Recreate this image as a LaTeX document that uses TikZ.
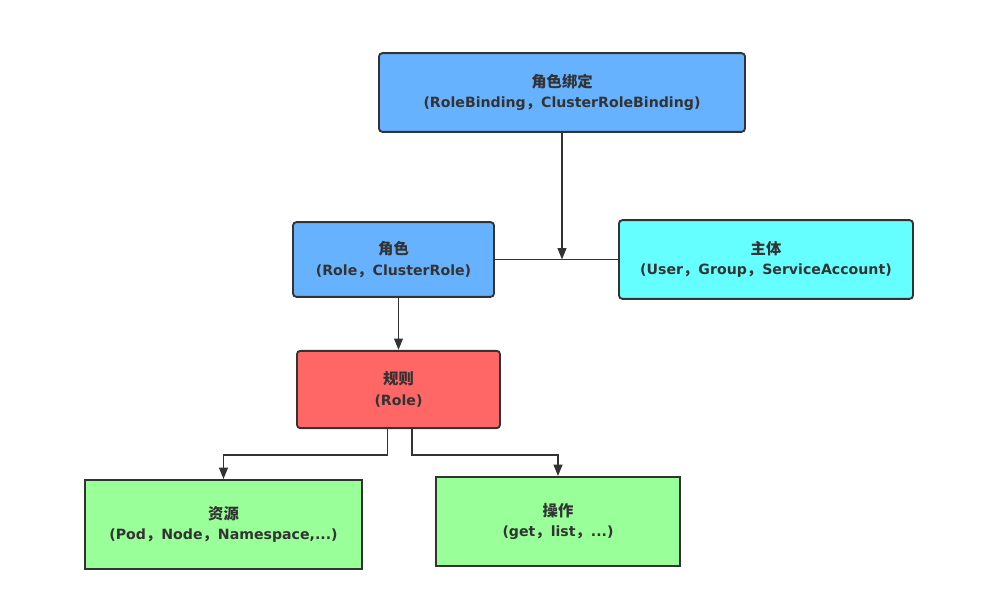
\documentclass[tikz,border=0pt]{standalone}
\usepackage{fontspec}
\setmainfont{DejaVu Sans}
\newfontfamily\cjk{Noto Sans CJK SC}
\usetikzlibrary{arrows.meta,positioning,calc}
\definecolor{bindblue}{HTML}{66B2FF}
\definecolor{subjcyan}{HTML}{66FFFF}
\definecolor{rulered}{HTML}{FF6666}
\definecolor{resgreen}{HTML}{99FF99}
\definecolor{edgegray}{HTML}{333333}
\newcommand{\zh}[1]{{\cjk\fontsize{11.5}{15.5}\selectfont\bfseries #1}}

\begin{document}
\begin{tikzpicture}[
    x=0.75pt,
    y=0.75pt,
    font=\fontsize{10.6}{15.5}\selectfont\bfseries,
    box/.style={draw=edgegray,line width=1.4pt,align=center,text=edgegray,inner sep=0pt},
    roundbox/.style={box,rounded corners=2.5pt},
    flow/.style={-{Triangle[length=8.5pt,width=6.5pt]},draw=edgegray,line width=1.4pt},
    link/.style={draw=edgegray,line width=1.4pt}
  ]
    \useasboundingbox (0,0) rectangle (997,611);

    \node[roundbox,fill=bindblue,minimum width=274.5pt,minimum height=59pt] (binding) at (562,518.5)
      {\zh{角色绑定}\\(RoleBinding\zh{，}ClusterRoleBinding)};
    \node[roundbox,fill=bindblue,minimum width=150.75pt,minimum height=56pt] (role) at (393.5,351.5)
      {\zh{角色}\\(Role\zh{，}ClusterRole)};
    \node[roundbox,fill=subjcyan,minimum width=220.5pt,minimum height=59pt] (subject) at (766,351.5)
      {\zh{主体}\\(User\zh{，}Group\zh{，}ServiceAccount)};
    \node[roundbox,fill=rulered,minimum width=152.25pt,minimum height=58pt] (rule) at (398.5,221.5)
      {\zh{规则}\\(Role)};
    \node[box,fill=resgreen,minimum width=207.75pt,minimum height=66.75pt] (resource) at (223.5,86.5)
      {\zh{资源}\\(Pod\zh{，}Node\zh{，}Namespace,...)};
    \node[box,fill=resgreen,minimum width=183pt,minimum height=66.75pt] (operation) at (558,89.5)
      {\zh{操作}\\(get\zh{，}list\zh{，}...)};

    % binding links role and subject
    \draw[link] (role.east) -- (subject.west);
    \coordinate (joint) at (binding.south |- role.east);
    \draw[flow] (binding.south) -- (joint);

    \draw[flow] (role.south -| rule.north) -- (rule.north);

    \draw[flow] ([xshift=-8.25pt]rule.south) -- ++(0,-26) -| (resource.north);
    \draw[flow] ([xshift=10pt]rule.south) -- ++(0,-26) -| (operation.north);
\end{tikzpicture}
\end{document}
